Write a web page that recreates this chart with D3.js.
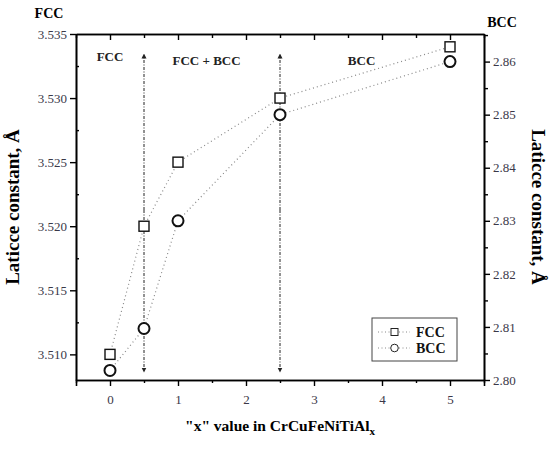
<!DOCTYPE html>
<html>
<head>
<meta charset="utf-8">
<script src="https://cdn.jsdelivr.net/npm/d3@7"></script>
<style>
  body { margin: 0; background: #fff; }
</style>
</head>
<body>
<div id="chart"></div>
<script>
// data
const xValues = [0, 0.5, 1, 2.5, 5];
const fccValues = [3.510, 3.520, 3.525, 3.530, 3.534];
const bccValues = [2.8018, 2.8097, 2.830, 2.850, 2.860];
const xTicks = [0, 1, 2, 3, 4, 5];
const leftTicks = [3.510, 3.515, 3.520, 3.525, 3.530, 3.535];
const rightTicks = [2.80, 2.81, 2.82, 2.83, 2.84, 2.85, 2.86];
const phaseBounds = [0.5, 2.5];
const regions = [
    {name: "FCC", x: 0},
    {name: "FCC + BCC", x: 1.42},
    {name: "BCC", x: 3.7},
];

const serif = "'Liberation Serif'";

var margin = {top: 34, right: 66, bottom: 70, left: 76},
    width = 550 - margin.left - margin.right,
    height = 450 - margin.top - margin.bottom;

var svg = d3.select("#chart").append("svg")
    .attr("width", 550)
    .attr("height", 450)
    .append("g")
    .attr("transform", "translate(" + margin.left + "," + margin.top + ")");

var x = d3.scaleLinear().domain([-0.5, 5.5]).range([0, width]);
var yL = d3.scaleLinear().domain([3.508, 3.535]).range([height, 0]);
var yR = d3.scaleLinear().domain([2.80, 2.8652]).range([height, 0]);

// minor ticks
var xMinor = d3.range(-0.5, 5.51, 0.5).filter(d => !xTicks.includes(d));
var lMinor = d3.range(3.5075, 3.535, 0.005).map(d => +d.toFixed(4)).filter(d => d > 3.508);
var rMinor = d3.range(2.805, 2.865, 0.01).map(d => +d.toFixed(3));

function styleAxis(g) {
    g.attr("font-family", null);
    g.select(".domain").attr("stroke", "#000").attr("stroke-width", 1.6);
    g.selectAll(".tick line").attr("stroke", "#000").attr("stroke-width", 1.4);
    g.selectAll(".tick text")
        .attr("fill", "#3a3848")
        .style("font-family", serif)
        .style("font-size", "13px");
}

// bottom axis
svg.append("g")
    .attr("transform", "translate(0," + height + ")")
    .call(d3.axisBottom(x).tickValues(xTicks).tickFormat(d3.format("d")).tickSize(6).tickPadding(9))
    .call(styleAxis);
svg.append("g")
    .attr("transform", "translate(0," + height + ")")
    .call(d3.axisBottom(x).tickValues(xMinor).tickFormat("").tickSize(3).tickSizeOuter(0))
    .call(styleAxis);

// top axis (ticks inward)
svg.append("g")
    .call(d3.axisBottom(x).tickValues(xTicks).tickFormat("").tickSize(6).tickSizeOuter(0))
    .call(styleAxis);
svg.append("g")
    .call(d3.axisBottom(x).tickValues(xMinor).tickFormat("").tickSize(4).tickSizeOuter(0))
    .call(styleAxis);

// left axis
svg.append("g")
    .call(d3.axisLeft(yL).tickValues(leftTicks).tickFormat(d3.format(".3f")).tickSize(6).tickSizeOuter(0).tickPadding(3))
    .call(styleAxis);
svg.append("g")
    .call(d3.axisRight(yL).tickValues(lMinor).tickFormat("").tickSize(3).tickSizeOuter(0))
    .call(styleAxis);

// right axis
svg.append("g")
    .attr("transform", "translate(" + width + ",0)")
    .call(d3.axisRight(yR).tickValues(rightTicks).tickFormat(d3.format(".2f")).tickSize(6).tickSizeOuter(0).tickPadding(3))
    .call(styleAxis);
svg.append("g")
    .attr("transform", "translate(" + width + ",0)")
    .call(d3.axisRight(yR).tickValues(rMinor).tickFormat("").tickSize(4).tickSizeOuter(0))
    .call(styleAxis);

// arrow markers
var defs = svg.append("defs");
defs.append("marker")
    .attr("id", "arrow")
    .attr("viewBox", "0 0 6 6")
    .attr("refX", 3).attr("refY", 3)
    .attr("markerWidth", 5).attr("markerHeight", 6)
    .attr("orient", "auto")
    .append("path")
    .attr("d", "M0,0 L6,3 L0,6 Z")
    .attr("fill", "#222");

// phase boundary arrows, drawn from the middle outwards
[22, 336].forEach(function(end) {
    svg.selectAll(null)
        .data(phaseBounds)
        .enter().append("line")
        .attr("x1", d => x(d)).attr("x2", d => x(d))
        .attr("y1", 176).attr("y2", end)
        .attr("stroke", "#222")
        .attr("stroke-width", 1)
        .attr("stroke-dasharray", "3,1.5,1,1.5")
        .attr("marker-end", "url(#arrow)");
});

// region labels
svg.selectAll(".region")
    .data(regions)
    .enter().append("text")
    .attr("x", d => x(d.x))
    .attr("y", (d, i) => i == 0 ? 27 : 31)
    .attr("text-anchor", "middle")
    .style("font-family", serif)
    .style("font-size", "13px")
    .style("font-weight", "bold")
    .attr("fill", "#222")
    .text(d => d.name);

// series lines
var fccLine = d3.line().x((d, i) => x(xValues[i])).y(d => yL(d));
var bccLine = d3.line().x((d, i) => x(xValues[i])).y(d => yR(d));

svg.append("path")
    .datum(fccValues)
    .attr("d", fccLine)
    .attr("fill", "none")
    .attr("stroke", "#888")
    .attr("stroke-width", 1.2)
    .attr("stroke-dasharray", "1,3");
svg.append("path")
    .datum(bccValues)
    .attr("d", bccLine)
    .attr("fill", "none")
    .attr("stroke", "#888")
    .attr("stroke-width", 1.2)
    .attr("stroke-dasharray", "1,3");

// markers
svg.selectAll(".sq")
    .data(fccValues)
    .enter().append("rect")
    .attr("x", (d, i) => x(xValues[i]) - 5)
    .attr("y", d => yL(d) - 5)
    .attr("width", 10).attr("height", 10)
    .attr("fill", "#fff")
    .attr("stroke", "#111")
    .attr("stroke-width", 1.4);
svg.selectAll(".circ")
    .data(bccValues)
    .enter().append("circle")
    .attr("cx", (d, i) => x(xValues[i]))
    .attr("cy", d => yR(d))
    .attr("r", 5.5)
    .attr("fill", "#fff")
    .attr("stroke", "#111")
    .attr("stroke-width", 2);

// legend
var legend = svg.append("g").attr("transform", "translate(296,284)");
legend.append("rect")
    .attr("width", 85).attr("height", 43)
    .attr("fill", "#fff")
    .attr("stroke", "#444")
    .attr("stroke-width", 1);
[{name: "FCC", y: 14}, {name: "BCC", y: 30}].forEach(function(d, i) {
    legend.append("line")
        .attr("x1", 6).attr("x2", 38)
        .attr("y1", d.y).attr("y2", d.y)
        .attr("stroke", "#888")
        .attr("stroke-dasharray", "1,2.5");
    if (i == 0) {
        legend.append("rect")
            .attr("x", 19).attr("y", d.y - 3.5)
            .attr("width", 7).attr("height", 7)
            .attr("fill", "#fff").attr("stroke", "#222");
    } else {
        legend.append("circle")
            .attr("cx", 22.5).attr("cy", d.y).attr("r", 3.8)
            .attr("fill", "#fff").attr("stroke", "#222");
    }
    legend.append("text")
        .attr("x", 44).attr("y", d.y + 5)
        .style("font-family", serif)
        .style("font-size", "14px")
        .style("font-weight", "bold")
        .attr("fill", "#111")
        .text(d.name);
});

// corner labels
svg.append("text")
    .attr("x", -27).attr("y", -16)
    .attr("text-anchor", "middle")
    .style("font-family", serif)
    .style("font-size", "14px").style("font-weight", "bold")
    .text("FCC");
svg.append("text")
    .attr("x", width + 18).attr("y", -7)
    .attr("text-anchor", "middle")
    .style("font-family", serif)
    .style("font-size", "14px").style("font-weight", "bold")
    .text("BCC");

// axis titles
svg.append("text")
    .attr("transform", "translate(-57," + (height / 2) + ") rotate(-90)")
    .attr("text-anchor", "middle")
    .style("font-family", serif)
    .style("font-size", "19px").style("font-weight", "bold")
    .text("Laticce constant, Å");
svg.append("text")
    .attr("transform", "translate(" + (width + 48) + "," + (height / 2) + ") rotate(90)")
    .attr("text-anchor", "middle")
    .style("font-family", serif)
    .style("font-size", "19px").style("font-weight", "bold")
    .text("Laticce constant, Å");

var xt = svg.append("text")
    .attr("x", width / 2).attr("y", height + 51)
    .attr("text-anchor", "middle")
    .style("font-family", serif)
    .style("font-size", "15.5px").style("font-weight", "bold");
xt.append("tspan").text("\"x\" value in CrCuFeNiTiAl");
xt.append("tspan").attr("dy", 4).style("font-size", "11px").text("x");
</script>
</body>
</html>
